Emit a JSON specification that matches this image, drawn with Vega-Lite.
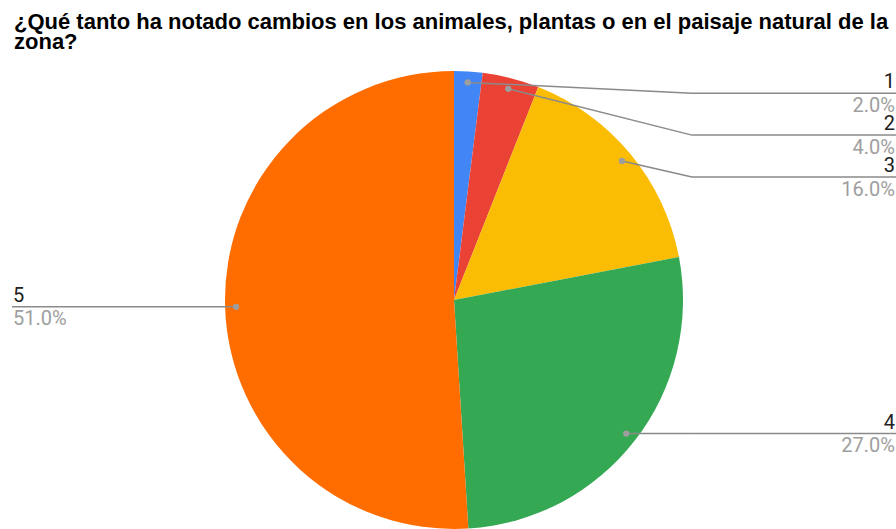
{
  "$schema": "https://vega.github.io/schema/vega-lite/v6.json",
  "autosize": {"type": "none"},
  "padding": {"left": 12, "top": 60, "right": 0, "bottom": 0},
  "width": 884,
  "height": 480,
  "background": "white",
  "title": {
    "text": ["\u00a0¿Qué tanto ha notado cambios en los animales, plantas o en el paisaje natural de la", "zona?"],
    "anchor": "start",
    "frame": "group",
    "font": "Liberation Sans Narrow, Arial Narrow, Liberation Sans",
    "fontSize": 22,
    "fontWeight": "bold",
    "color": "#000000",
    "lineHeight": 20,
    "offset": 6,
    "dx": 2
  },
  "config": {"view": {"stroke": null}},
  "data": {
    "values": [
      {"cat": "1", "value": 2},
      {"cat": "2", "value": 4},
      {"cat": "3", "value": 16},
      {"cat": "4", "value": 27},
      {"cat": "5", "value": 51}
    ]
  },
  "layer": [
    {
      "mark": {"type": "arc", "outerRadius": 229},
      "encoding": {
        "theta": {"field": "value", "type": "quantitative", "stack": true},
        "color": {
          "field": "cat",
          "type": "nominal",
          "scale": {"domain": ["1", "2", "3", "4", "5"], "range": ["#4285F4", "#EA4335", "#FBBC04", "#34A853", "#FF6D01"]},
          "legend": null
        },
        "order": {"field": "cat"}
      }
    },
    {
      "transform": [
        {"window": [{"op": "sum", "field": "value", "as": "cum"}], "sort": [{"field": "cat"}], "frame": [null, 0]},
        {"calculate": "(datum.cum - datum.value / 2) / 100 * 2 * PI", "as": "ang"},
        {"calculate": "0.952 * sin(datum.ang)", "as": "dx"},
        {"calculate": "0.952 * cos(datum.ang)", "as": "dy"},
        {"calculate": "datum.dx >= 0 ? 'R' : 'L'", "as": "side"},
        {"window": [{"op": "row_number", "as": "rk"}], "groupby": ["side"], "sort": [{"field": "dy", "order": "descending"}]},
        {"calculate": "datum.dy + (datum.rk - 1) * 0.183", "as": "e"},
        {"window": [{"op": "min", "field": "e", "as": "cm"}], "groupby": ["side"], "sort": [{"field": "dy", "order": "descending"}], "frame": [null, 0]},
        {"calculate": "min(0.903, datum.cm) - (datum.rk - 1) * 0.183", "as": "ly"},
        {"calculate": "datum.side == 'R' ? 1.039 : datum.dx", "as": "ex"},
        {"calculate": "datum.side == 'R' ? 1.9301 : -1.9301", "as": "endx"},
        {"calculate": "format(datum.value / 100, '.1%')", "as": "pct"}
      ],
      "layer": [
        {
          "mark": {"type": "rule", "color": "#8a8a8a", "strokeWidth": 1.5},
          "encoding": {
            "x": {"field": "dx", "type": "quantitative", "scale": {"domain": [-1.9301, 1.9301], "nice": false, "zero": false}, "axis": null},
            "y": {"field": "dy", "type": "quantitative", "scale": {"domain": [-1.048, 1.048], "nice": false, "zero": false}, "axis": null},
            "x2": {"field": "ex"},
            "y2": {"field": "ly"}
          }
        },
        {
          "mark": {"type": "rule", "color": "#8a8a8a", "strokeWidth": 1.5},
          "encoding": {
            "x": {"field": "ex", "type": "quantitative"},
            "y": {"field": "ly", "type": "quantitative"},
            "x2": {"field": "endx"},
            "y2": {"field": "ly"}
          }
        },
        {
          "mark": {"type": "point", "filled": true, "color": "#9e9e9e", "opacity": 1, "size": 40},
          "encoding": {
            "x": {"field": "dx", "type": "quantitative"},
            "y": {"field": "dy", "type": "quantitative"}
          }
        },
        {
          "transform": [{"filter": "datum.side == 'R'"}],
          "mark": {"type": "text", "align": "right", "baseline": "alphabetic", "dy": -5, "dx": -1, "font": "Roboto", "fontSize": 20, "color": "#212121"},
          "encoding": {
            "x": {"field": "endx", "type": "quantitative"},
            "y": {"field": "ly", "type": "quantitative"},
            "text": {"field": "cat"}
          }
        },
        {
          "transform": [{"filter": "datum.side == 'R'"}],
          "mark": {"type": "text", "align": "right", "baseline": "alphabetic", "dy": 18.5, "dx": -1, "font": "Roboto", "fontSize": 20, "color": "#9e9e9e"},
          "encoding": {
            "x": {"field": "endx", "type": "quantitative"},
            "y": {"field": "ly", "type": "quantitative"},
            "text": {"field": "pct"}
          }
        },
        {
          "transform": [{"filter": "datum.side == 'L'"}],
          "mark": {"type": "text", "align": "left", "baseline": "alphabetic", "dy": -5, "dx": 1, "font": "Roboto", "fontSize": 20, "color": "#212121"},
          "encoding": {
            "x": {"field": "endx", "type": "quantitative"},
            "y": {"field": "ly", "type": "quantitative"},
            "text": {"field": "cat"}
          }
        },
        {
          "transform": [{"filter": "datum.side == 'L'"}],
          "mark": {"type": "text", "align": "left", "baseline": "alphabetic", "dy": 18.5, "dx": 1, "font": "Roboto", "fontSize": 20, "color": "#9e9e9e"},
          "encoding": {
            "x": {"field": "endx", "type": "quantitative"},
            "y": {"field": "ly", "type": "quantitative"},
            "text": {"field": "pct"}
          }
        }
      ]
    }
  ]
}
